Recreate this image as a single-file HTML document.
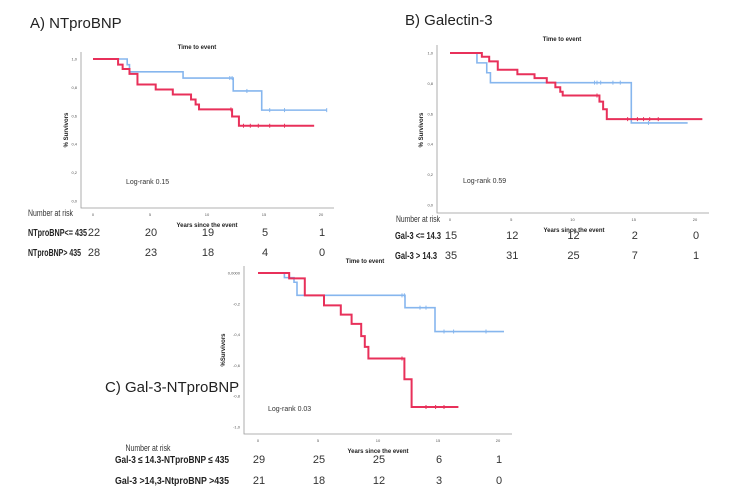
<!DOCTYPE html>
<html><head><meta charset="utf-8">
<style>
body{margin:0;background:#fff;}
svg{display:block;font-family:"Liberation Sans",sans-serif;}
.t{font-size:15px;fill:#222;}
.small{font-size:4px;fill:#555;}
.ttl{font-size:6px;font-weight:bold;fill:#222;}
.nr{font-size:9px;fill:#333;}
.lab{font-size:10px;font-weight:bold;fill:#222;}
.num{font-size:11px;fill:#333;text-anchor:middle;}
</style></head>
<body>
<svg id="chart" width="750" height="500" viewBox="0 0 750 500">
<text class="t" x="30" y="28">A) NTproBNP</text>
<text class="t" x="405" y="25">B) Galectin-3</text>
<text class="t" x="105" y="392">C) Gal-3-NTproBNP</text>
</svg>
<script>
// ---- Panel A data ----
const aBlueT=[0,3.0,3.2,7.9,12.3,14.8,20.5];
const aBlueS=[1.0,0.96,0.91,0.866,0.775,0.64,0.64];
const aRedT=[0,2.2,2.6,3.2,3.9,5.5,7.0,8.6,9.0,9.3,12.2,12.8,19.4];
const aRedS=[1.0,0.96,0.93,0.895,0.82,0.785,0.75,0.715,0.68,0.645,0.595,0.53,0.53];
const aBlueCens=[12.0,12.2,13.5,15.5,16.8,20.5];
const aRedCens=[12.1,13.2,13.8,14.5,15.5,16.8];
const aRiskLabels=["NTproBNP<= 435","NTproBNP> 435"];
const aRisk1=[22,20,19,5,1];
const aRisk2=[28,23,18,4,0];
// ---- Panel B data ----
const bBlueT=[0,2.2,3.0,3.3,14.8,19.4];
const bBlueS=[1.0,0.935,0.87,0.805,0.54,0.54];
const bRedT=[0,2.6,3.2,3.9,5.5,6.9,7.9,8.6,9.0,9.2,12.2,12.5,12.8,20.6];
const bRedS=[1.0,0.975,0.945,0.89,0.86,0.835,0.805,0.775,0.745,0.72,0.68,0.63,0.565,0.565];
const bBlueCens=[11.8,12.0,12.3,13.3,13.9,16.2];
const bRedCens=[12.0,14.5,15.3,15.8,16.3,17.0];
const bRiskLabels=["Gal-3 <= 14.3","Gal-3 > 14.3"];
const bRisk1=[15,12,12,2,0];
const bRisk2=[35,31,25,7,1];
// ---- Panel C data ----
const cBlueT=[0,2.2,3.0,3.25,12.25,14.75,20.5];
const cBlueS=[0,-0.03,-0.06,-0.145,-0.225,-0.38,-0.38];
const cRedT=[0,2.6,3.9,5.5,6.9,7.8,8.6,8.9,9.2,12.2,12.8,16.7];
const cRedS=[0,-0.035,-0.145,-0.21,-0.27,-0.33,-0.41,-0.48,-0.555,-0.69,-0.87,-0.87];
const cBlueCens=[12.0,12.2,13.5,14.0,15.5,16.3,19.0];
const cRedCens=[12.0,14.0,14.8,15.5];
const cRiskLabels=["Gal-3 \u2264 14.3-NTproBNP \u2264 435","Gal-3 >14,3-NtproBNP >435"];
const cRisk1=[29,25,25,6,1];
const cRisk2=[21,18,12,3,0];
const xTicks=[0,5,10,15,20];
const yTicksAB=[0,0.2,0.4,0.6,0.8,1.0];
const yTickLabAB=["0,0","0,2","0,4","0,6","0,8","1,0"];
const yTicksC=[0,-0.2,-0.4,-0.6,-0.8,-1.0];
const yTickLabC=["0,0000","-0,2","-0,4","-0,6","-0,8","-1,0"];

const NS='http://www.w3.org/2000/svg';
const svg=document.getElementById('chart');
function el(tag,attrs,parent){const e=document.createElementNS(NS,tag);for(const k in attrs)e.setAttribute(k,attrs[k]);(parent||svg).appendChild(e);return e;}

function panel(p,name){
  const g=el('g',{});
  
  
  const sx=t=>p.x0+(p.x20-p.x0)*t/20;
  const sy=v=>p.yTop+(p.yBot-p.yTop)*(p.vTop-v)/(p.vTop-p.vBot);
  const ax=el('path',{d:`M${p.axX},${p.axTop}V${p.axY}H${p.axR}`,stroke:'#999',fill:'none','stroke-width':0.8},g);
  
  
  xTicks.forEach(t=>{
    const tx=el('text',{x:sx(t),y:p.axY+8,class:'small','text-anchor':'middle'},g);tx.textContent=t;
    
    
  });
  p.yt.forEach((v,i)=>{
    const tx=el('text',{x:p.axX-4,y:sy(v)+1.5,class:'small','text-anchor':'end'},g);tx.textContent=p.ytl[i];
    
    
  });
  function curve(T,S,col,w,dash,cens,nm){
    let d=`M${sx(T[0])},${sy(S[0])}`;
    for(let i=1;i<T.length;i++){d+=`H${sx(T[i])}V${sy(S[i])}`;}
    const pth=el('path',{d,stroke:col,fill:'none','stroke-width':w,'stroke-dasharray':dash||'none'},g);
    
    
    cens.forEach(c=>{
      let v=S[0];for(let i=0;i<T.length;i++){if(T[i]<=c)v=S[i];}
      const m=el('line',{x1:sx(c),x2:sx(c),y1:sy(v)-2,y2:sy(v)+2,stroke:col,'stroke-width':1},g);
      
      
    });
  }
  curve(p.bT,p.bS,'#86b6ee',1.6,'',p.bC,'curve-low');
  curve(p.rT,p.rS,'#e8305a',2,'',p.rC,'curve-high');
  const tt=el('text',{x:p.ttlX,y:p.ttlY,class:'ttl','text-anchor':'middle'},g);tt.textContent='Time to event';
  
  
  const xt=el('text',{x:p.xlX,y:p.xlY,class:'ttl','text-anchor':'middle'},g);xt.textContent='Years since the event';
  
  
  const yl=el('text',{x:0,y:0,class:'ttl','text-anchor':'middle',transform:`translate(${p.ylX},${p.ylY}) rotate(-90)`},g);yl.textContent=p.ylab;
  
  
  const lr=el('text',{x:p.lrX,y:p.lrY,style:'font-size:7px;fill:#333'},g);lr.textContent=p.lr;
  
  
  const nr=el('text',{x:p.nrX,y:p.nrY,class:'nr','text-anchor':p.nrA||'start',textLength:p.nrW,lengthAdjust:'spacingAndGlyphs'},g);nr.textContent='Number at risk';
  
  
  [p.r1,p.r2].forEach((row,j)=>{
    const ry=p.rowY[j];
    const lb=el('text',{x:p.labX,y:ry,class:'lab',textLength:p.labW[j],lengthAdjust:'spacingAndGlyphs'},g);lb.textContent=p.rl[j];
    
    
    row.forEach((n,i)=>{
      const tx=el('text',{x:sx(xTicks[i])+1,y:ry,class:'num'},g);tx.textContent=n;
      
      
    });
  });
}

panel({x0:93,x20:321,yTop:59,yBot:201,vTop:1,vBot:0,axX:81,axTop:52,axY:208,axR:334,
  yt:yTicksAB,ytl:yTickLabAB,bT:aBlueT,bS:aBlueS,rT:aRedT,rS:aRedS,bC:aBlueCens,rC:aRedCens,
  ttlX:197,ttlY:49,xlX:207,xlY:227,ylX:68,ylY:130,ylab:'% Survivors',lrX:126,lrY:184,lr:'Log-rank 0.15',
  nrX:28,nrY:216,nrW:45,rowY:[236,256],labX:28,labW:[59,53],rl:aRiskLabels,r1:aRisk1,r2:aRisk2},'panel-a-ntprobnp');

panel({x0:450,x20:695,yTop:53,yBot:205,vTop:1,vBot:0,axX:437,axTop:45,axY:213,axR:709,
  yt:yTicksAB,ytl:yTickLabAB,bT:bBlueT,bS:bBlueS,rT:bRedT,rS:bRedS,bC:bBlueCens,rC:bRedCens,
  ttlX:562,ttlY:41,xlX:574,xlY:232,ylX:423,ylY:130,ylab:'% Survivors',lrX:463,lrY:183,lr:'Log-rank 0.59',
  nrX:396,nrY:222,nrW:44,rowY:[239,259],labX:395,labW:[46,42],rl:bRiskLabels,r1:bRisk1,r2:bRisk2},'panel-b-galectin3');

panel({x0:258,x20:498,yTop:273,yBot:427,vTop:0,vBot:-1,axX:244,axTop:266,axY:434,axR:512,
  yt:yTicksC,ytl:yTickLabC,bT:cBlueT,bS:cBlueS,rT:cRedT,rS:cRedS,bC:cBlueCens,rC:cRedCens,
  ttlX:365,ttlY:263,xlX:378,xlY:453,ylX:225,ylY:350,ylab:'%Survivors',lrX:268,lrY:411,lr:'Log-rank 0.03',
  nrX:148,nrY:451,nrW:45,nrA:'middle',rowY:[463,484],labX:115,labW:[114,114],rl:cRiskLabels,r1:cRisk1,r2:cRisk2},'panel-c-gal3-ntprobnp');
</script>
</body></html>
